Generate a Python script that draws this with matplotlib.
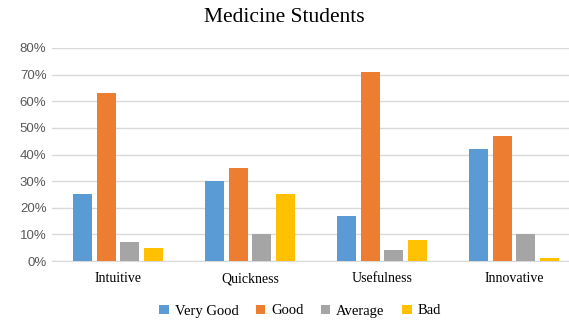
import numpy as np
from matplotlib import pyplot as plt

categorias = ["Intuitive", "Quickness", "Usefulness", "Innovative"]
series = ["Very Good", "Good", "Average", "Bad"]
very_good = [25, 30, 17, 42]
good = [63, 35, 71, 47]
average = [7, 10, 4, 10]
bad = [5, 25, 8, 1]
colores = ["#5B9BD5", "#ED7D31", "#A5A5A5", "#FFC000"]

valores = [very_good, good, average, bad]

fig = plt.figure(figsize=(5.69, 3.21), dpi=100)
ax = fig.add_axes([52 / 569, 1 - 261 / 321, 528 / 569, 213 / 321])

x = np.arange(len(categorias))
ancho = 0.145
paso = 0.18
for i, (nombre, vals, col) in enumerate(zip(series, valores, colores)):
    ax.bar(x + (i - 1.5) * paso, vals, ancho, color=col, label=nombre, zorder=3)

ax.set_xlim(-0.5, len(categorias) - 0.5)
ax.set_ylim(0, 80)
ax.set_yticks(range(0, 81, 10))
ax.set_yticklabels(["%d%%" % v for v in range(0, 81, 10)],
                   fontsize=9.5, color="#595959", family="Liberation Sans")
ax.set_xticks(x)
ax.set_xticklabels(categorias, fontsize=10, family="Liberation Serif")
ax.tick_params(length=0, pad=8)
ax.tick_params(axis="y", pad=4)
ax.grid(axis="y", color="#D9D9D9", linewidth=1, zorder=0)
for s in ["top", "right", "left"]:
    ax.spines[s].set_visible(False)
ax.spines["bottom"].set_color("#D9D9D9")

fig.text(0.5, 1 - 18 / 321, "Medicine Students", ha="center", va="center",
         fontsize=15.5, family="Liberation Serif")
fig.legend(loc="center", bbox_to_anchor=(300 / 569, 1 - 311 / 321), ncol=4,
           frameon=False, prop={"family": "Liberation Serif", "size": 10.5},
           handlelength=0.65, handleheight=0.65, handletextpad=0.4,
           columnspacing=1.2)

plt.savefig("out.png", dpi=100)
